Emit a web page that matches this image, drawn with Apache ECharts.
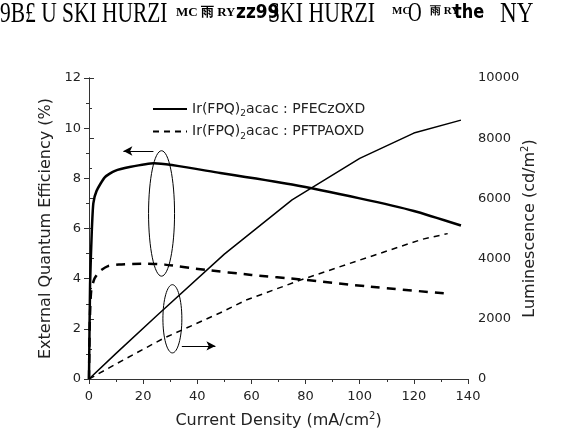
<!DOCTYPE html>
<html><head><meta charset="utf-8">
<script src="https://cdn.jsdelivr.net/npm/echarts@6/dist/echarts.min.js"></script>
<style>html,body{margin:0;padding:0;background:#fff}#c{width:565px;height:435px}</style>
</head><body><div id="c"></div>
<script>
// x tick values
const xTicks = [0, 20, 40, 60, 80, 100, 120, 140];
const eqeTicks = [0, 2, 4, 6, 8, 10, 12];
const lumTicks = [0, 2000, 4000, 6000, 8000, 10000];
// EQE (%) vs current density
const eqePFECz = [[0,0],[0.4,3.8],[1,5.8],[1.6,7.0],[2.8,7.5],[5.9,8.05],[9.6,8.3],[15,8.45],[24,8.6],[48.5,8.21],[75,7.75],[100,7.2],[120,6.7],[137.4,6.12]];
const eqePFTPA = [[0,0],[0.3,2.3],[0.8,3.5],[2,4.0],[4,4.3],[7,4.5],[11,4.56],[20,4.6],[28,4.56],[43,4.35],[60,4.15],[79,3.96],[103,3.69],[132.5,3.4]];
// Luminescence (cd/m2) vs current density
const lumPFECz = [[0,0],[10,850],[25,2100],[50,4150],[75,5950],[100,7330],[120,8170],[137.4,8600]];
const lumPFTPA = [[0,0],[10,500],[27.5,1350],[48.5,2200],[58,2620],[78.5,3300],[100,3950],[123,4640],[132.5,4830]];
// annotations (data coords): ellipses [cx, cy, rx, ry] on EQE axis, arrows [x1, x2, y]
const ellipses = [[26.8, 6.6, 4.8, 2.5], [30.8, 2.4, 3.5, 1.36]];
const arrows = [[23.8, 12.7, 9.09], [34.3, 46.7, 1.32]];
const names = ['Ir(FPQ)2acac : PFECzOXD', 'Ir(FPQ)2acac : PFTPAOXD'];

const FONT = 'DejaVu Sans';
const chart = echarts.init(document.getElementById('c'), null, {renderer: 'canvas'});
const axisCommon = {
  axisLine: {show: true, lineStyle: {color: '#333', width: 1}},
  axisTick: {show: true, inside: false, length: 5, lineStyle: {color: '#333'}},
  minorTick: {show: true, splitNumber: 2, length: 3, lineStyle: {color: '#333'}},
  splitLine: {show: false},
  axisLabel: {fontFamily: FONT, fontSize: 13, color: '#222', formatter: v => String(v)}
};
const subRich = {a: {fontFamily: FONT, fontSize: 16, color: '#222'}, s: {fontFamily: FONT, fontSize: 10, color: '#222', verticalAlign: 'top', padding: [0, 0, 10, 0]}};
const option = {
  backgroundColor: '#fff',
  animation: false,
  grid: {left: 89, right: 97, top: 78, bottom: 56},
  legend: {
    left: 147, top: 97, orient: 'vertical', itemWidth: 34, itemHeight: 10, itemGap: 6,
    data: names,
    itemStyle: {opacity: 0},
    formatter: function (n) { return '{a|' + n.slice(0, 7) + '}{s|2}{a|' + n.slice(8) + '}'; },
    textStyle: {fontFamily: FONT, fontSize: 14, color: '#222',
      rich: {a: {fontFamily: FONT, fontSize: 14, color: '#222'}, s: {fontFamily: FONT, fontSize: 9, color: '#222', verticalAlign: 'bottom', padding: [10, 0, 0, 0]}}}
  },
  xAxis: [
    Object.assign({}, axisCommon, {
      type: 'value', min: xTicks[0], max: xTicks[xTicks.length - 1], interval: 20,
      axisLabel: {fontFamily: FONT, fontSize: 13, color: '#222', margin: 11, formatter: v => String(v)},
      name: '{a|Current Density (mA/cm}{s|2}{a|)}', nameLocation: 'middle', nameGap: 32,
      nameTextStyle: {rich: subRich}
    }),
    Object.assign({}, axisCommon, {
      type: 'value', position: 'top', min: 0, max: 140, interval: 20,
      axisLabel: {show: false}, axisTick: {show: true, inside: true, length: 5, lineStyle: {color: '#333'}},
      minorTick: {show: true, splitNumber: 2, length: 3, lineStyle: {color: '#333'}}
    })
  ],
  yAxis: [
    Object.assign({}, axisCommon, {
      type: 'value', min: eqeTicks[0], max: eqeTicks[eqeTicks.length - 1], interval: 2,
      name: 'External Quantum Efficiency (%)', nameLocation: 'middle', nameGap: 27,
      nameTextStyle: {fontFamily: FONT, fontSize: 16, color: '#222'}
    }),
    Object.assign({}, axisCommon, {
      type: 'value', position: 'right', min: lumTicks[0], max: lumTicks[lumTicks.length - 1], interval: 2000,
      axisLabel: {fontFamily: FONT, fontSize: 13, color: '#222', margin: 10, formatter: v => String(v)},
      name: '{a|Luminescence (cd/m}{s|2}{a|)}', nameLocation: 'middle', nameGap: 52, nameRotate: 90,
      nameMoveOverlap: false,
      nameTextStyle: {rich: subRich}
    })
  ],
  series: [
    {name: names[0], type: 'line', xAxisIndex: 0, yAxisIndex: 1, data: lumPFECz, showSymbol: false, symbol: 'none',
     lineStyle: {color: '#000', width: 1.5, type: 'solid'}, itemStyle: {color: '#000'}},
    {name: names[1], type: 'line', xAxisIndex: 0, yAxisIndex: 1, data: lumPFTPA, showSymbol: false, symbol: 'none',
     lineStyle: {color: '#000', width: 1.5, type: [6, 5]}, itemStyle: {color: '#000'}},
    {name: 'EQE PFECzOXD', type: 'line', xAxisIndex: 0, yAxisIndex: 0, data: eqePFECz, showSymbol: false, symbol: 'none', smooth: 0.2,
     lineStyle: {color: '#000', width: 2.5, type: 'solid'},
     markLine: {silent: true, symbolSize: [7, 9], lineStyle: {color: '#000', width: 1, type: 'solid'}, label: {show: false},
       data: arrows.map(a => [{coord: [a[0], a[2]], symbol: 'none'}, {coord: [a[1], a[2]], symbol: 'arrow'}])}},
    {name: 'EQE PFTPAOXD', type: 'line', xAxisIndex: 0, yAxisIndex: 0, data: eqePFTPA, showSymbol: false, symbol: 'none', smooth: 0.2,
     lineStyle: {color: '#000', width: 2.5, type: [9, 7]}}
  ]
};
chart.setOption(option);

function placeGraphics() {
  const els = ellipses.map(e => {
    const c = chart.convertToPixel({xAxisIndex: 0, yAxisIndex: 0}, [e[0], e[1]]);
    const r = chart.convertToPixel({xAxisIndex: 0, yAxisIndex: 0}, [e[0] + e[2], e[1] + e[3]]);
    return {type: 'ellipse', shape: {cx: c[0], cy: c[1], rx: Math.abs(r[0] - c[0]), ry: Math.abs(r[1] - c[1])},
      style: {fill: 'none', stroke: '#000', lineWidth: 1}, z: 10};
  });
  els.push({type: 'text', x: 0, y: 0, style: {text: '9B\u00A3 U SKI HURZI', font: '29px "Liberation Serif"', fill: '#000'}, scaleX: 0.74, z: 20});
  els.push({type: 'text', x: 176, y: 6, style: {text: 'MC \u96e8 RY', font: 'bold 13px "Liberation Serif"', fill: '#000'}, z: 20});
  els.push({type: 'text', x: 236, y: 3, style: {text: 'zz99', font: 'bold 20px "DejaVu Sans"', fill: '#000'}, scaleX: 0.85, z: 20});
  els.push({type: 'text', x: 268, y: 0, style: {text: 'SKI HURZI', font: '29px "Liberation Serif"', fill: '#000'}, scaleX: 0.75, z: 20});
  els.push({type: 'text', x: 392, y: 6, style: {text: 'MC', font: 'bold 11px "Liberation Serif"', fill: '#000'}, z: 20});
  els.push({type: 'text', x: 408, y: 0, style: {text: 'O', font: '27px "Liberation Serif"', fill: '#000'}, scaleX: 0.7, z: 20});
  els.push({type: 'text', x: 430, y: 6, style: {text: '\u96e8 RY', font: 'bold 11px "Liberation Serif"', fill: '#000'}, z: 20});
  els.push({type: 'text', x: 454, y: 4, style: {text: 'the', font: 'bold 19px "DejaVu Sans"', fill: '#000'}, scaleX: 0.85, z: 20});
  els.push({type: 'text', x: 500, y: 0, style: {text: 'NY', font: '29px "Liberation Serif"', fill: '#000'}, scaleX: 0.8, z: 20});
  chart.setOption({graphic: els});
}
placeGraphics();
</script></body></html>
